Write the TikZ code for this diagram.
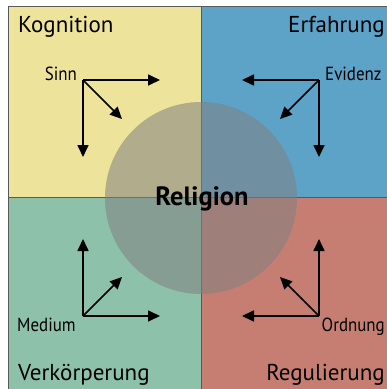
\documentclass[tikz,border=0pt]{standalone}
\usepackage{fontspec}
\setmainfont{PT Sans}
\newfontfamily\schmal[FakeStretch=0.89]{PT Sans}
\usetikzlibrary{arrows.meta}
\definecolor{kognition}{HTML}{EEE39B}
\definecolor{erfahrung}{HTML}{5DA2C7}
\definecolor{verkoerperung}{HTML}{8DC1A9}
\definecolor{regulierung}{HTML}{C67E72}

\begin{document}
\begin{tikzpicture}[x=1pt,y=-1pt,
  feld/.style={draw=black!65,line width=0.8pt},
  pfeil/.style={-{Triangle[length=12pt,width=11pt]},line width=1.7pt},
  ecke/.style={font=\fontsize{23}{27}\selectfont,inner sep=0pt},
  marke/.style={font=\schmal\fontsize{19}{22}\selectfont,inner sep=0pt}]
\useasboundingbox (0,0) rectangle (387,389);
\clip (0,0) rectangle (387,389);
% vier Felder
\filldraw[feld,fill=kognition] (8,6) rectangle (201,197);
\filldraw[feld,fill=erfahrung] (201,6) rectangle (400,197);
\filldraw[feld,fill=verkoerperung] (8,197) rectangle (201,400);
\filldraw[feld,fill=regulierung] (201,197) rectangle (400,400);
% Kreis in der Mitte
\fill[gray,opacity=0.55] (201,198) circle (96);
\node[font=\bfseries\fontsize{26.5}{30}\selectfont,inner sep=0pt,anchor=base] (religion) at (202,205) {Religion};
% Ecken
\node[ecke,anchor=base west] (kog) at (18,32) {Kognition};
\node[ecke,anchor=base east] (erf) at (385,32) {Erfahrung};
\node[ecke,anchor=base west] (verk) at (18,380) {Verkörperung};
\node[ecke,anchor=base east] (reg) at (385,380) {Regulierung};
% Sinn
\coordinate (sinn) at (83,80);
\coordinate (sinn-r) at (160,80);
\coordinate (sinn-u) at (83,157);
\coordinate (sinn-d) at (122,119);
\draw[pfeil] (sinn) -- (sinn-r);
\draw[pfeil] (sinn) -- (sinn-u);
\draw[pfeil] (sinn) -- (sinn-d);
\node[marke,anchor=base east] (sinn-t) at (77,80) {Sinn};
% Evidenz
\coordinate (evid) at (319,80);
\coordinate (evid-l) at (242,80);
\coordinate (evid-u) at (319,157);
\coordinate (evid-d) at (280,119);
\draw[pfeil] (evid) -- (evid-l);
\draw[pfeil] (evid) -- (evid-u);
\draw[pfeil] (evid) -- (evid-d);
\node[marke,anchor=base west] (evid-t) at (325,80) {Evidenz};
% Medium
\coordinate (med) at (83,316);
\coordinate (med-r) at (160,316);
\coordinate (med-o) at (83,239);
\coordinate (med-d) at (122,277);
\draw[pfeil] (med) -- (med-r);
\draw[pfeil] (med) -- (med-o);
\draw[pfeil] (med) -- (med-d);
\node[marke,anchor=base west] (med-t) at (17,331) {Medium};
% Ordnung
\coordinate (ord) at (319,316);
\coordinate (ord-l) at (242,316);
\coordinate (ord-o) at (319,239);
\coordinate (ord-d) at (280,277);
\draw[pfeil] (ord) -- (ord-l);
\draw[pfeil] (ord) -- (ord-o);
\draw[pfeil] (ord) -- (ord-d);
\node[marke,anchor=base east] (ord-t) at (385,331) {Ordnung};
\end{tikzpicture}
\end{document}
